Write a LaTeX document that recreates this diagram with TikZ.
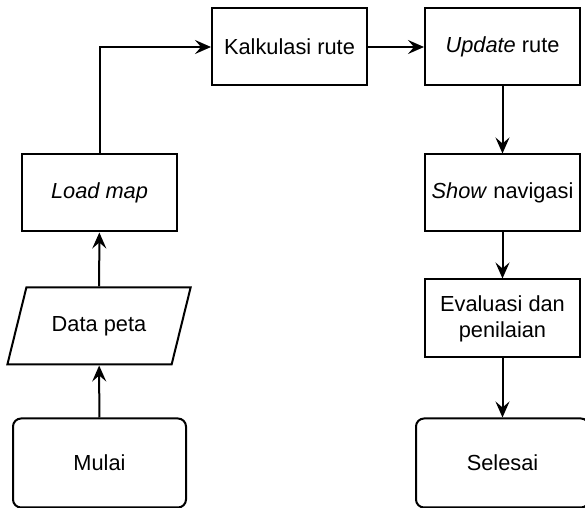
\documentclass[tikz,border=0pt]{standalone}
\usepackage{fontspec}
\setmainfont{Liberation Sans}
\usepackage{tikz}
\usetikzlibrary{shapes.geometric}
\usetikzlibrary{positioning, calc, arrows.meta}

\tikzset{
  proc/.style={draw, line width=1pt, minimum width=77.5pt, minimum height=38.5pt, align=center, inner sep=2pt},
  term/.style={proc, rounded corners=4pt, minimum width=86.5pt, minimum height=44.5pt},
  io/.style={draw, line width=1pt, trapezium, trapezium left angle=64, trapezium right angle=116,
             trapezium stretches=true, minimum width=92pt, minimum height=38.5pt, inner sep=2pt},
  flow/.style={line width=1pt, -{Stealth[length=8pt, width=7pt, inset=3pt]}}
}

\begin{document}
\begin{tikzpicture}[x=0.5pt, y=-0.5pt, font=\fontsize{10.9}{13}\selectfont]
        \useasboundingbox (0,0) rectangle (585,508);

        % Left column, bottom to top
        \node[term] (mulai) at (99.5,463) {Mulai};
        \node[io] (peta) at (99,326) {Data peta};
        \node[proc] (load) at (99.5,193) {\textit{Load map}};

        % Top row
        \node[proc] (kalkulasi) at (289.5,47) {Kalkulasi rute};
        \node[proc] (update) at (502.5,47) {\textit{Update} rute};

        % Right column, top to bottom
        \node[proc] (show) at (502.5,193) {\textit{Show} navigasi};
        \node[proc, minimum height=39pt] (evaluasi) at (502.5,318.5) {Evaluasi dan\\penilaian};
        \node[term] (selesai) at (502.5,463) {Selesai};

        % Flow
        \draw[flow] (mulai) -- (peta);
        \draw[flow] (peta) -- (load);
        \draw[flow] (load.north) |- (kalkulasi.west);
        \draw[flow] (kalkulasi) -- (update);
        \draw[flow] (update) -- (show);
        \draw[flow] (show) -- (evaluasi);
        \draw[flow] (evaluasi) -- (selesai);
  \end{tikzpicture}
\end{document}
